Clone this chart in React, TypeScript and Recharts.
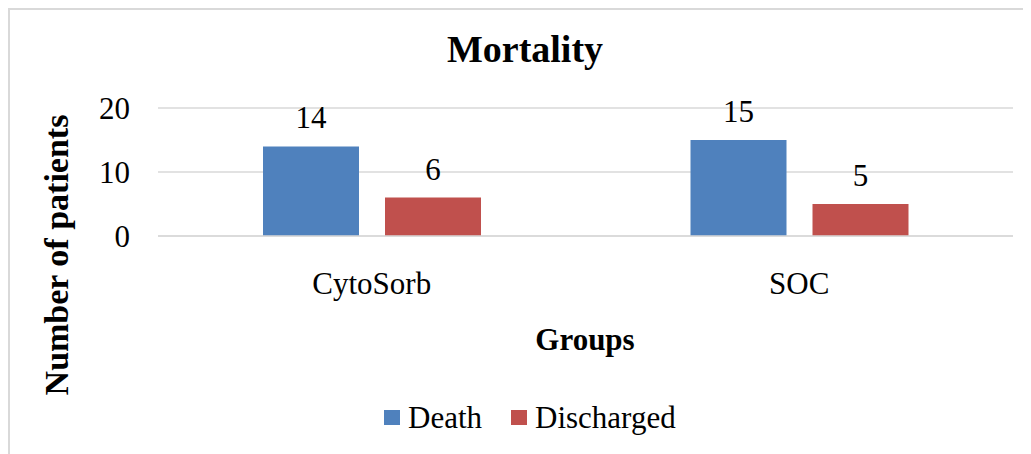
import { BarChart, Bar, XAxis, YAxis, CartesianGrid, Legend, LabelList } from 'recharts'

const groups = ['CytoSorb', 'SOC']
const death = [14, 15]
const discharged = [6, 5]
const yTicks = [0, 10, 20]

const data = groups.map((g, i) => ({ group: g, Death: death[i], Discharged: discharged[i] }))

const FONT = 'Liberation Serif, Times New Roman, serif'
const BLUE = '#4F81BD'
const RED = '#C0504D'
const GRID = '#d9d9d9'

const txt = { fontFamily: FONT, fontSize: 31, fill: '#000' }

function XTick({ x, y, payload }: any) {
  return (
    <text x={x} y={y} dy={22} textAnchor="middle" style={txt}>
      {payload.value}
    </text>
  )
}

function YTick({ x, y, payload }: any) {
  return (
    <text x={x} y={y} dy={11} textAnchor="end" style={txt}>
      {payload.value}
    </text>
  )
}

function BarLabel({ x, y, width, value }: any) {
  return (
    <text x={x + width / 2} y={y - 18} textAnchor="middle" style={txt}>
      {value}
    </text>
  )
}

function LegendContent({ payload }: any) {
  return (
    <div style={{ display: 'flex', alignItems: 'center', fontFamily: FONT, fontSize: 31, lineHeight: '31px', color: '#000' }}>
      {(payload || []).map((p: any, i: number) => (
        <div key={p.value} style={{ display: 'flex', alignItems: 'center', marginRight: i === 0 ? 29 : 0 }}>
          <span style={{ display: 'inline-block', width: 16, height: 15, background: p.color, marginRight: 8 }} />
          <span>{p.value}</span>
        </div>
      ))}
    </div>
  )
}

export default function App() {
  return (
    <div style={{ position: 'relative', width: 1023, height: 446, background: '#fff', fontFamily: FONT }}>
      <div style={{ position: 'absolute', left: 0, top: 0, width: 1030, height: 450, borderLeft: `2px solid ${GRID}`, borderTop: `2px solid ${GRID}`, boxSizing: 'border-box', pointerEvents: 'none' }} />
      <div style={{ position: 'absolute', left: 517, top: 22, transform: 'translateX(-50%)', fontSize: 38, lineHeight: '38px', fontWeight: 'bold', whiteSpace: 'nowrap' }}>
        Mortality
      </div>
      <div style={{ position: 'absolute', left: 577, top: 316, transform: 'translateX(-50%)', fontSize: 31, lineHeight: '32px', fontWeight: 'bold', whiteSpace: 'nowrap' }}>
        Groups
      </div>
      <div style={{ position: 'absolute', left: -151, top: 231, width: 400, height: 32, textAlign: 'center', fontSize: 34, lineHeight: '32px', fontWeight: 'bold', whiteSpace: 'nowrap', transform: 'rotate(-90deg)' }}>
        Number of patients
      </div>
      <BarChart
        width={1023}
        height={446}
        data={data}
        margin={{ top: 100, right: 18, left: 90, bottom: 158 }}
        barSize={96}
        barGap={26}
      >
        <CartesianGrid vertical={false} stroke={GRID} strokeWidth={1.5} />
        <XAxis
          dataKey="group"
          height={60}
          tickSize={0}
          tickMargin={36}
          axisLine={{ stroke: GRID, strokeWidth: 1.5 }}
          tick={<XTick />}
        />
        <YAxis
          width={60}
          domain={[0, 20]}
          ticks={yTicks}
          tickSize={0}
          tickMargin={28}
          axisLine={false}
          tick={<YTick />}
        />
        <Legend
          verticalAlign="middle"
          align="center"
          content={<LegendContent />}
          wrapperStyle={{ top: 394, left: 376, width: 'auto' }}
        />
        <Bar dataKey="Death" fill={BLUE} isAnimationActive={false}>
          <LabelList dataKey="Death" content={<BarLabel />} />
        </Bar>
        <Bar dataKey="Discharged" fill={RED} isAnimationActive={false}>
          <LabelList dataKey="Discharged" content={<BarLabel />} />
        </Bar>
      </BarChart>
    </div>
  )
}
